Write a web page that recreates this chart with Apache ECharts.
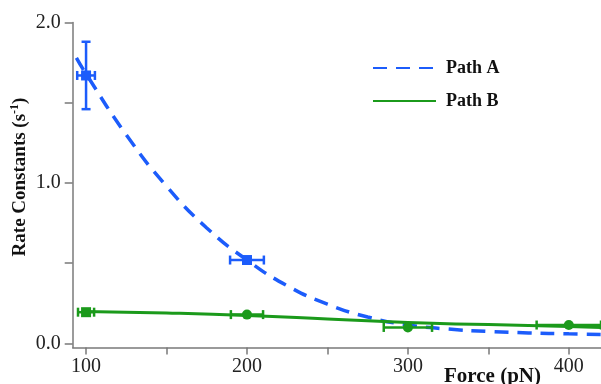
<!DOCTYPE html>
<html>
<head>
<meta charset="utf-8">
<script src="https://cdn.jsdelivr.net/npm/echarts@6/dist/echarts.min.js"></script>
<style>
  html, body { margin: 0; padding: 0; background: #fff; }
  #chart { width: 601px; height: 384px; }
</style>
</head>
<body>
<div id="chart"></div>
<script>
// measured points (force in pN, rate in 1/s) with x / y error half-widths
var forceA = [100, 200];
var rateA = [1.67, 0.52];
var xErrA = [5.5, 10.5];
var yErrA = [0.21, 0];

var forceB = [100, 200, 300, 400];
var rateB = [0.195, 0.18, 0.10, 0.115];
var xErrB = [5, 10, 15, 20];
var yErrB = [0, 0, 0, 0];

// fitted curves
var fitForceA = [94, 100, 125, 150, 175, 200, 225, 250, 275, 300, 325, 350, 375, 400, 420];
var fitRateA = [1.78, 1.68, 1.30, 0.98, 0.72, 0.52, 0.36, 0.245, 0.165, 0.115, 0.09, 0.075, 0.066, 0.06, 0.056];
var fitForceB = [99, 150, 200, 250, 300, 350, 400, 420];
var fitRateB = [0.20, 0.19, 0.175, 0.153, 0.13, 0.118, 0.106, 0.10];

// axis ticks
var xTicks = [100, 150, 200, 250, 300, 350, 400];
var xLabels = [100, 200, 300, 400];
var yTicks = [0, 0.5, 1.0, 1.5, 2.0];
var yLabels = [0, 1.0, 2.0];

var blue = '#1c5cfb';
var green = '#1b9a1b';
var axisColor = '#7a7a7a';
var serif = '"Liberation Serif", "Times New Roman", serif';

function zip(a, b) {
    return a.map(function (v, i) { return [v, b[i]]; });
}
function zip4(a, b, c, d) {
    return a.map(function (v, i) { return [v, b[i], c[i], d[i]]; });
}

// error bars with caps
function errorBars(color) {
    return function (params, api) {
        var x = api.value(0), y = api.value(1), dx = api.value(2), dy = api.value(3);
        var cap = 4.5;
        var style = { stroke: color, lineWidth: 2.5 };
        var kids = [];
        if (dx > 0) {
            var l = api.coord([x - dx, y]), r = api.coord([x + dx, y]);
            kids.push({ type: 'line', shape: { x1: l[0], y1: l[1], x2: r[0], y2: r[1] }, style: style });
            kids.push({ type: 'line', shape: { x1: l[0], y1: l[1] - cap, x2: l[0], y2: l[1] + cap }, style: style });
            kids.push({ type: 'line', shape: { x1: r[0], y1: r[1] - cap, x2: r[0], y2: r[1] + cap }, style: style });
        }
        if (dy > 0) {
            var t = api.coord([x, y + dy]), b = api.coord([x, y - dy]);
            kids.push({ type: 'line', shape: { x1: t[0], y1: t[1], x2: b[0], y2: b[1] }, style: style });
            kids.push({ type: 'line', shape: { x1: t[0] - cap, y1: t[1], x2: t[0] + cap, y2: t[1] }, style: style });
            kids.push({ type: 'line', shape: { x1: b[0] - cap, y1: b[1], x2: b[0] + cap, y2: b[1] }, style: style });
        }
        return { type: 'group', children: kids };
    };
}

var chart = echarts.init(document.getElementById('chart'));
var option = {
    animation: false,
    grid: { left: 72.7, right: 0, top: 22.5, bottom: 36.5, containLabel: false, outerBoundsMode: 'none' },
    legend: {
        data: ['Path A', 'Path B'],
        orient: 'vertical',
        left: 372,
        top: 59,
        padding: 0,
        itemWidth: 63,
        itemHeight: 14,
        itemGap: 15,
        itemStyle: { opacity: 0 },
        textStyle: { fontFamily: serif, fontWeight: 'bold', fontSize: 18, color: '#111', padding: [0, 0, 0, 5] }
    },
    xAxis: {
        type: 'value',
        min: 91.7,
        max: 420,
        name: 'Force (pN)',
        nameLocation: 'end',
        nameGap: -60,
        nameMoveOverlap: false,
        nameTextStyle: { fontFamily: serif, fontWeight: 'bold', fontSize: 21, color: '#111', align: 'right', verticalAlign: 'top', padding: [19, 0, 0, 0] },
        axisLine: { onZero: false, lineStyle: { color: axisColor, width: 1.5 } },
        axisTick: { show: true, length: 7, customValues: xTicks, lineStyle: { color: axisColor, width: 1.5 } },
        axisLabel: { customValues: xLabels, margin: 9, fontFamily: serif, fontSize: 20, color: '#222' },
        splitLine: { show: false }
    },
    yAxis: {
        type: 'value',
        min: -0.025,
        max: 2.0,
        name: '{a|Rate Constants (s}{b|-1}{a|)}',
        nameLocation: 'middle',
        nameGap: 43,
        nameMoveOverlap: false,
        nameTextStyle: {
            padding: [0, 0, 0, 16],
            rich: {
                a: { fontFamily: serif, fontWeight: 'bold', fontSize: 19, color: '#111', verticalAlign: 'bottom', lineHeight: 21 },
                b: { fontFamily: serif, fontWeight: 'bold', fontSize: 12, color: '#111', verticalAlign: 'top', lineHeight: 21 }
            }
        },
        axisLine: { show: true, lineStyle: { color: axisColor, width: 1.5 } },
        axisTick: { show: true, length: 8, customValues: yTicks, lineStyle: { color: axisColor, width: 1.5 } },
        axisLabel: {
            customValues: yLabels, margin: 12, fontFamily: serif, fontSize: 20, color: '#222',
            formatter: function (v) { return v.toFixed(1); }
        },
        splitLine: { show: false }
    },
    series: [
        {
            name: 'Path A', type: 'line', data: zip(fitForceA, fitRateA),
            smooth: true, symbol: 'none',
            lineStyle: { color: blue, width: 3.5, type: [14, 9] },
            itemStyle: { color: blue }, z: 3
        },
        {
            name: 'Path B', type: 'line', data: zip(fitForceB, fitRateB),
            smooth: true, symbol: 'none',
            lineStyle: { color: green, width: 3 },
            itemStyle: { color: green }, z: 3
        },
        {
            name: 'errA', type: 'custom', renderItem: errorBars(blue),
            data: zip4(forceA, rateA, xErrA, yErrA), z: 4
        },
        {
            name: 'errB', type: 'custom', renderItem: errorBars(green),
            data: zip4(forceB, rateB, xErrB, yErrB), z: 4
        },
        {
            name: 'ptsA', type: 'scatter', data: zip(forceA, rateA),
            symbol: 'rect', symbolSize: 10, itemStyle: { color: blue, opacity: 1 }, z: 5
        },
        {
            name: 'ptsB', type: 'scatter', data: zip(forceB, rateB),
            symbol: function (v, p) { return p.dataIndex === 0 ? 'rect' : 'circle'; },
            symbolSize: 10, itemStyle: { color: green, opacity: 1 }, z: 5
        }
    ]
};
chart.setOption(option);
</script>
</body>
</html>
